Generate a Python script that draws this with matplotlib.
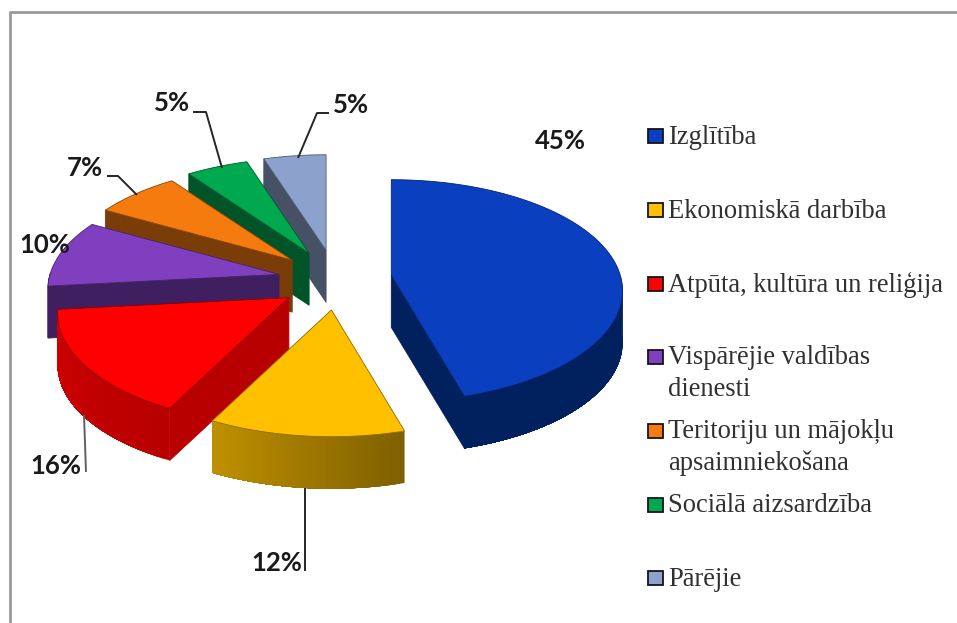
import numpy as np
import matplotlib
matplotlib.use("Agg")
import matplotlib.pyplot as plt
from matplotlib.colors import to_rgb
from matplotlib.patches import Polygon, Rectangle

categories = ["Izglītība", "Ekonomiskā darbība", "Atpūta, kultūra un reliģija",
              "Vispārējie valdības\ndienesti", "Teritoriju un mājokļu\napsaimniekošana",
              "Sociālā aizsardzība", "Pārējie"]
shares = [45, 12, 16, 10, 7, 5, 5]
top_colors = ["#0A3FC0", "#FFC000", "#FF0000", "#7F3FBF", "#F67B0F", "#00A84F", "#8CA2CC"]
side_left = ["#00205E", "#BF9000", "#D00000", "#3F1F60", "#7A3D07", "#005428", "#465166"]
side_right = ["#00205E", "#7F6000", "#B80000", "#3F1F60", "#7A3D07", "#005428", "#465166"]

# pie geometry in pixels, y goes down
CX, CY = 335, 280
RX, RY, K = 229, 109, 0.14
EX, EY = 57, 30
DEPTH = 52
TWIST = np.radians(2)  # the perspective turns the far side of the pie a little


def rim(t):
    t = t + TWIST * (1 - np.cos(t)) / 2
    s = 1 / (1 + K * np.cos(t))
    return RX * np.sin(t) * s, -RY * np.cos(t) * s


def draw_slice(ax, t0, t1, top, left, right):
    mid = (t0 + t1) / 2
    ax_x = CX + EX * np.sin(mid)
    ax_y = CY - EY * np.cos(mid)

    # flat cut faces
    for t, visible in ((t0, np.sin(t0) < -1e-6), (t1, np.sin(t1) > 1e-6)):
        if visible:
            x, y = rim(t)
            ax.add_patch(Polygon([(ax_x, ax_y), (ax_x + x, ax_y + y),
                                  (ax_x + x, ax_y + y + DEPTH), (ax_x, ax_y + DEPTH)],
                                 fc=right, ec=right, lw=0.6))

    # outer wall, only the part facing us
    lo, hi = max(t0, np.pi / 2), min(t1, 3 * np.pi / 2)
    if hi > lo:
        n = 40
        ts = np.linspace(lo, hi, n + 1)
        c_l, c_r = np.array(to_rgb(left)), np.array(to_rgb(right))
        # each strip runs on to the far end so no seams show
        for i in range(n):
            x, y = rim(ts[i:])
            col = c_r + (c_l - c_r) * (i / (n - 1))
            pts = list(zip(ax_x + x, ax_y + y)) + list(zip(ax_x + x[::-1], ax_y + y[::-1] + DEPTH))
            ax.add_patch(Polygon(pts, fc=col, ec="none", lw=0))

    # top
    ts = np.linspace(t0, t1, 120)
    x, y = rim(ts)
    pts = [(ax_x, ax_y)] + list(zip(ax_x + x, ax_y + y))
    edge = np.array(to_rgb(top)) * 0.55
    ax.add_patch(Polygon(pts, fc=top, ec=edge, lw=0.6))


fig = plt.figure(figsize=(9.57, 6.23), dpi=100)
ax = fig.add_axes([0, 0, 1, 1])
ax.set_xlim(0, 957)
ax.set_ylim(623, 0)
ax.axis("off")

# chart frame, only top and left show
ax.plot([9.5, 9.5, 957], [623, 11.5, 11.5], color="#999999", lw=2)

edges = np.radians(np.cumsum([0] + shares) * 3.6)
for i in reversed(range(len(shares))):
    draw_slice(ax, edges[i], edges[i + 1], top_colors[i], side_left[i], side_right[i])

# leader lines
leaders = [[(298, 158), (317, 113), (329, 113)],
           [(222, 168), (206, 112), (193, 112)],
           [(137, 195), (118, 176), (107, 176)],
           [(84, 415), (86, 472)],
           [(305, 488), (305, 571)]]
leader_cols = ["#262626", "#262626", "#262626", "#606060", "#262626"]
for pts, col in zip(leaders, leader_cols):
    ax.plot(*zip(*pts), color=col, lw=1.4, solid_capstyle="butt")

# data labels, same order as the slices
label_pos = [(560, 141), (277, 563), (56, 466), (45, 245), (85, 168), (172, 103), (351, 105)]
for v, (x, y) in zip(shares, label_pos):
    ax.text(x, y, f"{v}%", family="Lato", weight="bold", fontsize=18.5,
            ha="center", va="center", color="#1a1a1a")

# legend
legend_y = [136, 209.5, 283.5, 356.5, 430.5, 504.5, 578]
for name, col, y in zip(categories, top_colors, legend_y):
    ax.add_patch(Rectangle((648, y - 7), 15, 14, fc=col, ec="#14141e", lw=1.3))
    for j, line in enumerate(name.split("\n")):
        ax.text(668, y + 8 + j * 31, line, family="Liberation Serif", fontsize=19.1,
                ha="left", va="baseline", color="#303030")

fig.savefig("out.png", dpi=100)
